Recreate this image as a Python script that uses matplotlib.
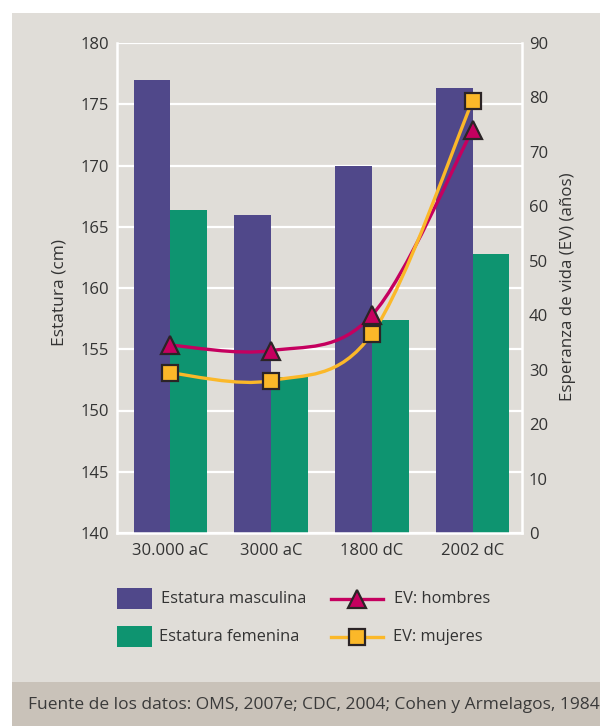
import numpy as np
import matplotlib
matplotlib.use("Agg")
from matplotlib import pyplot as plt
from matplotlib.path import Path
from matplotlib.patches import PathPatch, Rectangle

plt.rcParams['font.family'] = ['Open Sans', 'DejaVu Sans']

# Data
periods = ['30.000 aC', '3000 aC', '1800 dC', '2002 dC']
estatura_masc = [177.0, 166.0, 170.0, 176.3]
estatura_fem = [166.4, 152.7, 157.4, 162.8]
ev_hombres = [34.5, 33.5, 40.0, 74.1]
ev_mujeres = [29.4, 28.0, 36.6, 79.4]

PURPLE = '#50488A'
GREEN = '#0E9470'
MAGENTA = '#C5005F'
YELLOW = '#FBB829'
EDGE = '#2B2426'
PANEL = '#E0DDD8'
FOOTER = '#C9C2B9'
TEXT = '#333333'

W, H = 600, 726
fig = plt.figure(figsize=(W / 100, H / 100), dpi=100, facecolor='white')

# Overlay axes in pixel coordinates for background, legend and footer
bg = fig.add_axes([0, 0, 1, 1], zorder=-1)
bg.set_xlim(0, W)
bg.set_ylim(H, 0)
bg.axis('off')
bg.add_patch(Rectangle((12, 13), W - 12, 669, color=PANEL, lw=0))
bg.add_patch(Rectangle((12, 682), W - 12, 44, color=FOOTER, lw=0))

ax = fig.add_axes([117 / W, 1 - 533 / H, 405 / W, 490 / H])
ax.set_facecolor(PANEL)
x = np.arange(len(periods))
bw = 0.365
ax.bar(x - bw / 2, np.array(estatura_masc) - 140, bw, bottom=140, color=PURPLE, zorder=2)
ax.bar(x + bw / 2, np.array(estatura_fem) - 140, bw, bottom=140, color=GREEN, zorder=2)
ax.set_xlim(-0.53, 3.49)
ax.set_ylim(140, 180)
ax.set_yticks(np.arange(140, 181, 5))
ax.set_xticks(x)
ax.set_xticklabels(periods)
ax.grid(axis='y', color='white', lw=1.6, zorder=1)
ax.set_axisbelow(True)
ax.tick_params(axis='both', length=0, labelsize=12, labelcolor=TEXT)
ax.tick_params(axis='x', pad=7)
ax.tick_params(axis='y', pad=6)
for s in ['left', 'right', 'bottom']:
    ax.spines[s].set_color('white')
    ax.spines[s].set_linewidth(1.8)
ax.spines['top'].set_visible(False)

ax2 = ax.twinx()
ax2.set_ylim(0, 90)
ax2.set_yticks(np.arange(0, 91, 10))
ax2.tick_params(axis='y', length=0, labelsize=12, labelcolor=TEXT, pad=5)
for s in ax2.spines.values():
    s.set_visible(False)


def smooth_path(xs, ys):
    # Catmull-Rom curve through the points, expressed as cubic Bezier segments
    pts = np.column_stack([xs, ys]).astype(float)
    ext = np.vstack([pts[0], pts, pts[-1]])
    verts = [pts[0]]
    codes = [Path.MOVETO]
    for i in range(len(pts) - 1):
        p0, p1, p2, p3 = ext[i], ext[i + 1], ext[i + 2], ext[i + 3]
        verts += [p1 + (p2 - p0) / 6, p2 - (p3 - p1) / 6, p2]
        codes += [Path.CURVE4] * 3
    return Path(verts, codes)


for vals, col in [(ev_hombres, MAGENTA), (ev_mujeres, YELLOW)]:
    ax2.add_patch(PathPatch(smooth_path(x, vals), fill=False, edgecolor=col,
                            lw=2.4, capstyle='round', zorder=3))
ax2.plot(x, ev_hombres, ls='none', marker='^', ms=13, mfc=MAGENTA,
         mec=EDGE, mew=1.6, zorder=4)
ax2.plot(x, ev_mujeres, ls='none', marker='s', ms=12, mfc=YELLOW,
         mec=EDGE, mew=1.6, zorder=5)

# Axis titles, legend and footer
ov = fig.add_axes([0, 0, 1, 1], zorder=5)
ov.set_xlim(0, W)
ov.set_ylim(H, 0)
ov.axis('off')
ov.text(59, 292, 'Estatura (cm)', fontsize=12.5, color=TEXT, rotation=90,
        ha='center', va='center')
ov.text(568, 287, 'Esperanza de vida (EV) (años)', fontsize=12.2, color=TEXT,
        rotation=90, ha='center', va='center')

ov.add_patch(Rectangle((117, 588), 35, 21, color=PURPLE, lw=0))
ov.add_patch(Rectangle((117, 626), 35, 21, color=GREEN, lw=0))
ov.text(161, 599, 'Estatura masculina', fontsize=11.8, color=TEXT, va='center')
ov.text(159, 637, 'Estatura femenina', fontsize=11.8, color=TEXT, va='center')
ov.plot([331, 383], [599, 599], color=MAGENTA, lw=2.4)
ov.plot([357], [599], marker='^', ms=13, mfc=MAGENTA, mec=EDGE, mew=1.6)
ov.plot([331, 383], [637, 637], color=YELLOW, lw=2.4)
ov.plot([357], [637], marker='s', ms=12, mfc=YELLOW, mec=EDGE, mew=1.6)
ov.text(394, 599, 'EV: hombres', fontsize=11.8, color=TEXT, va='center')
ov.text(393, 637, 'EV: mujeres', fontsize=11.8, color=TEXT, va='center')

ov.text(28, 705, 'Fuente de los datos: OMS, 2007e; CDC, 2004; Cohen y Armelagos, 1984',
        fontsize=12.5, color='#3A3A3A', va='center', clip_on=False)

fig.savefig('out.png', dpi=100, facecolor='white')
